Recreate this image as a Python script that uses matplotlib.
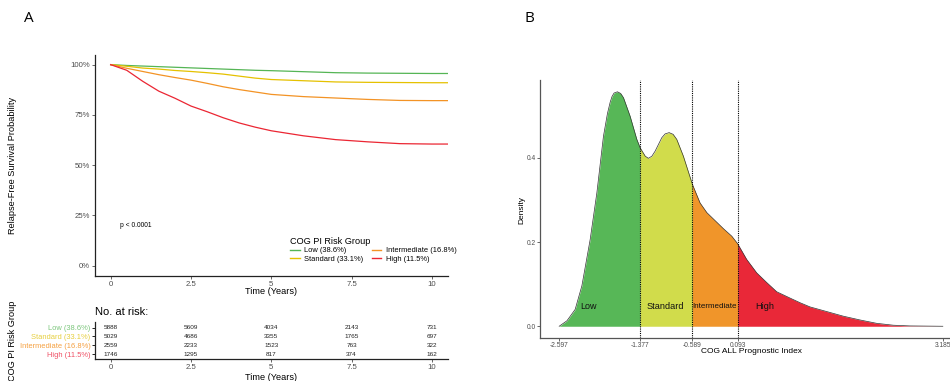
import numpy as np
import matplotlib
matplotlib.use("Agg")
import matplotlib.pyplot as plt

plt.rcParams['font.family'] = ['Liberation Sans', 'DejaVu Sans']

# ----------------------------------------------------------
# DATA — panel A (Kaplan-Meier)
# ----------------------------------------------------------
groups = ["Low (38.6%)", "Standard (33.1%)", "Intermediate (16.8%)", "High (11.5%)"]
km_time = [0, 0.5, 1, 1.5, 2, 2.5, 3, 3.5, 4, 4.5, 5, 6, 7, 8, 9, 10, 10.5]
km_low = [1.0, 0.996, 0.993, 0.990, 0.987, 0.984, 0.981, 0.978, 0.975, 0.972,
          0.970, 0.965, 0.960, 0.958, 0.957, 0.956, 0.956]
km_standard = [1.0, 0.992, 0.983, 0.978, 0.971, 0.966, 0.960, 0.953, 0.943, 0.933,
               0.926, 0.920, 0.914, 0.912, 0.911, 0.910, 0.910]
km_intermediate = [1.0, 0.982, 0.966, 0.950, 0.936, 0.923, 0.907, 0.890, 0.876, 0.864,
                   0.852, 0.841, 0.834, 0.827, 0.822, 0.821, 0.821]
km_high = [1.0, 0.972, 0.917, 0.868, 0.833, 0.794, 0.766, 0.736, 0.710, 0.689,
           0.671, 0.646, 0.627, 0.616, 0.607, 0.605, 0.605]

risk_times = [0, 2.5, 5, 7.5, 10]
risk_low = [5888, 5609, 4034, 2143, 731]
risk_standard = [5029, 4686, 3355, 1765, 697]
risk_intermediate = [2559, 2233, 1523, 763, 322]
risk_high = [1746, 1295, 817, 374, 162]

# ----------------------------------------------------------
# DATA — panel B (density of prognostic index)
# ----------------------------------------------------------
dens_x = [-2.597, -2.48, -2.356, -2.255, -2.13, -2.029, -1.93, -1.87, -1.829, -1.80,
          -1.77, -1.719, -1.67, -1.628, -1.528, -1.427, -1.377, -1.30, -1.252, -1.20,
          -1.151, -1.05, -1.0, -0.94, -0.88, -0.825, -0.725, -0.589, -0.474, -0.372,
          -0.123, 0.004, 0.093, 0.228, 0.379, 0.53, 0.681, 0.882, 1.032, 1.183,
          1.434, 1.684, 1.936, 2.187, 2.437, 2.689, 3.185]
dens_y = [0.0, 0.013, 0.040, 0.096, 0.206, 0.317, 0.451, 0.505, 0.532, 0.546,
          0.554, 0.557, 0.553, 0.543, 0.499, 0.444, 0.424, 0.404, 0.399, 0.404,
          0.416, 0.448, 0.457, 0.460, 0.456, 0.444, 0.404, 0.337, 0.293, 0.270,
          0.232, 0.214, 0.196, 0.159, 0.127, 0.104, 0.082, 0.067, 0.056, 0.046,
          0.035, 0.024, 0.015, 0.007, 0.0025, 0.0008, 0.0]
cutpoints = [-2.597, -1.377, -0.589, 0.093, 3.185]
band_names = ["Low", "Standard", "Intermediate", "High"]

# ----------------------------------------------------------
# COLOURS
# ----------------------------------------------------------
KM_COLORS = ["#55b555", "#e5c100", "#f39325", "#eb2633"]
TABLE_COLORS = ["#7cc67c", "#e6cf3d", "#f5a040", "#ef5065"]
FILL_COLORS = ["#57b757", "#d1dc4b", "#f0952a", "#e92838"]
TICK_GRAY = "#4d4d4d"

W, H = 950, 381
fig = plt.figure(figsize=(W / 100, H / 100), dpi=100)


def fx(px):
    return px / W


def fy(py):
    return 1 - py / H


# ----------------------------------------------------------
# PANEL A — survival curves
# ----------------------------------------------------------
ax = fig.add_axes([fx(94.6), fy(275.7), fx(448 - 94.6), (275.7 - 54.6) / H])
series = [km_low, km_standard, km_intermediate, km_high]
handles = []
for vals, col, lab in zip(series, KM_COLORS, groups):
    ln, = ax.plot(km_time, vals, color=col, lw=0.9, label=lab)
    handles.append(ln)

ax.set_xlim(-0.5, 10.5)
ax.set_ylim(-0.05, 1.05)
ax.set_xticks(risk_times)
ax.set_xticklabels(["0", "2.5", "5", "7.5", "10"])
ax.set_yticks([0, 0.25, 0.5, 0.75, 1.0])
ax.set_yticklabels(["0%", "25%", "50%", "75%", "100%"])
for s in ["top", "right"]:
    ax.spines[s].set_visible(False)
for s in ["left", "bottom"]:
    ax.spines[s].set_linewidth(0.9)
    ax.spines[s].set_color("#222222")
ax.tick_params(length=2, width=0.6, pad=1.5, labelsize=5.6, colors=TICK_GRAY)

ax.text(0.29, 0.2, "p < 0.0001", fontsize=4.8, ha="left", va="center")

leg = ax.legend(handles=handles, ncol=2, loc="upper left",
                bbox_to_anchor=(fx(290), fy(237)), bbox_transform=fig.transFigure,
                frameon=False, fontsize=5.4, title="COG PI Risk Group",
                title_fontsize=6.6, alignment="left", handlelength=1.3,
                handletextpad=0.6, columnspacing=1.1, labelspacing=0.15,
                borderpad=0, borderaxespad=0)
for ln in leg.get_lines():
    ln.set_linewidth(1.0)

fig.text(fx(271), fy(291.7), "Time (Years)", fontsize=6.6, ha="center", va="center")
fig.text(fx(13), fy(165), "Relapse-Free Survival Probability", fontsize=6.6,
         rotation=90, ha="center", va="center")

# ----------------------------------------------------------
# PANEL A — number at risk table
# ----------------------------------------------------------
tab = fig.add_axes([fx(94.6), fy(359.3), fx(448 - 94.6), (359.3 - 322.4) / H])
tab.set_xlim(-0.5, 10.5)
tab.set_ylim(0.4, 4.6)
risk_rows = [risk_low, risk_standard, risk_intermediate, risk_high]
row_y = [4, 3, 2, 1]
for counts, yy in zip(risk_rows, row_y):
    for t, n in zip(risk_times, counts):
        tab.text(t, yy, str(n), fontsize=4.6, ha="center", va="center", color="#222222")

tab.set_yticks(row_y)
tab.set_yticklabels(groups)
for lbl, col in zip(tab.get_yticklabels(), TABLE_COLORS):
    lbl.set_color(col)
tab.set_xticks(risk_times)
tab.set_xticklabels(["0", "2.5", "5", "7.5", "10"])
for s in ["top", "right"]:
    tab.spines[s].set_visible(False)
for s in ["left", "bottom"]:
    tab.spines[s].set_linewidth(0.9)
    tab.spines[s].set_color("#222222")
tab.tick_params(axis="x", length=2, width=0.6, pad=1.5, labelsize=5.6, colors=TICK_GRAY)
tab.tick_params(axis="y", length=2, width=0.6, pad=1.0, labelsize=5.4)

fig.text(fx(95), fy(311.7), "No. at risk:", fontsize=8, ha="left", va="center")
fig.text(fx(271), fy(377.5), "Time (Years)", fontsize=6.6, ha="center", va="center")
fig.text(fx(13), fy(341), "COG PI Risk Group", fontsize=6.6,
         rotation=90, ha="center", va="center")

# ----------------------------------------------------------
# PANEL B — density by risk band
# ----------------------------------------------------------
bx = fig.add_axes([fx(540), fy(338), fx(962 - 540), (338 - 80) / H])
xs = np.array(dens_x)
ys = np.array(dens_y)
for i in range(4):
    lo, hi = cutpoints[i], cutpoints[i + 1]
    m = (xs >= lo - 1e-9) & (xs <= hi + 1e-9)
    bx.fill_between(xs[m], 0, ys[m], color=FILL_COLORS[i], lw=0)
bx.plot(xs, ys, color="#333333", lw=0.5)

for c in cutpoints[1:4]:
    bx.axvline(c, color="black", lw=0.8, ls=(0, (1, 1)))

label_pos = [(-2.16, 6.5), (-1.0, 6.6), (-0.25, 5.8), (0.505, 6.6)]
for name, (xx, fs) in zip(band_names, label_pos):
    bx.text(xx, 0.048, name, fontsize=fs, ha="center", va="center", color="#111111")

bx.set_xlim(-2.886, 3.474)
bx.set_ylim(-0.0279, 0.585)
bx.set_xticks(cutpoints)
bx.set_xticklabels(["-2.597", "-1.377", "-0.589", "0.093", "3.185"])
bx.set_yticks([0.0, 0.2, 0.4])
bx.set_yticklabels(["0.0", "0.2", "0.4"])
for s in ["top", "right"]:
    bx.spines[s].set_visible(False)
for s in ["left", "bottom"]:
    bx.spines[s].set_linewidth(0.9)
    bx.spines[s].set_color("#555555")
bx.tick_params(length=2, width=0.6, pad=1.2, labelsize=4.8, colors=TICK_GRAY)

fig.text(fx(751.5), fy(351.7), "COG ALL Prognostic Index", fontsize=6.0,
         ha="center", va="center")
fig.text(fx(522), fy(210), "Density", fontsize=6.0, rotation=90,
         ha="center", va="center")

# panel letters
fig.text(fx(29), fy(19), "A", fontsize=11, family=["Open Sans", "DejaVu Sans"],
         ha="center", va="center")
fig.text(fx(529), fy(19), "B", fontsize=11, family=["Open Sans", "DejaVu Sans"],
         ha="center", va="center")

fig.savefig("out.png", dpi=100)
